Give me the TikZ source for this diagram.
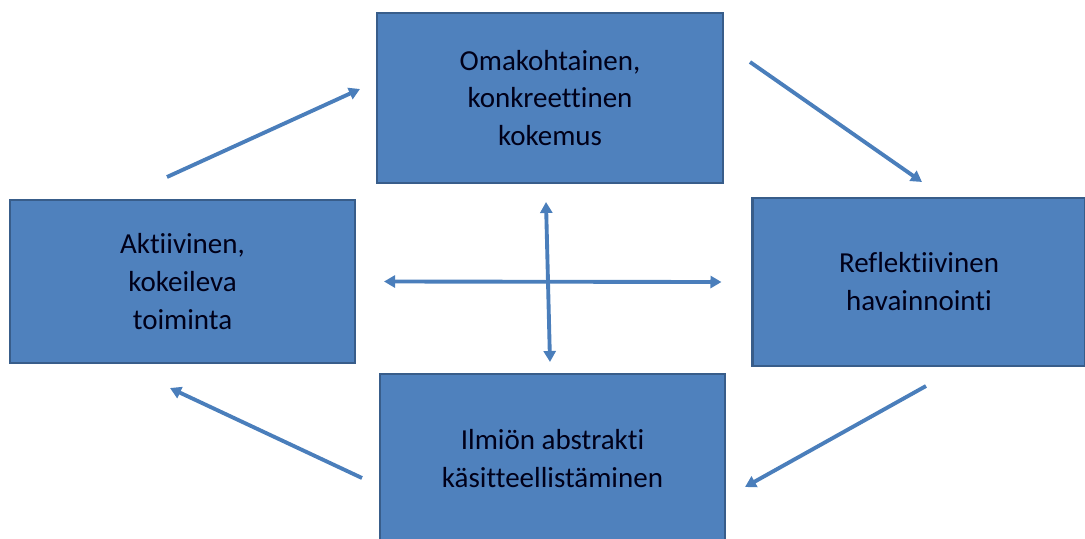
\documentclass[tikz,border=0pt]{standalone}
\usepackage{fontspec}
\setmainfont{Carlito}[Ligatures=NoCommon]
\usepackage{tikz}
\usetikzlibrary{arrows.meta}
\definecolor{boxfill}{HTML}{4F81BD}
\definecolor{boxline}{HTML}{385D8A}
\definecolor{arrowblue}{HTML}{4A7EBB}

\begin{document}
\begin{tikzpicture}[
  x=0.02cm,y=-0.02cm,
  box/.style={draw=boxline,fill=boxfill,line width=1.2pt,align=center,
    inner sep=0pt,text=black!90!blue,font=\fontsize{16.5}{21.6}\selectfont},
  arrow/.style={draw=arrowblue,line width=2.2pt,-{Triangle[length=0.22cm,width=0.24cm]}},
  twoway/.style={arrow,{Triangle[length=0.22cm,width=0.24cm]}-{Triangle[length=0.22cm,width=0.24cm]}}
]
  \useasboundingbox (0,0) rectangle (1085,538);

  % the four phases of the cycle
  \node[box,minimum width=6.92cm,minimum height=3.4cm] (exp) at (550,98)
    {Omakohtainen,\\konkreettinen\\kokemus};
  \node[box,minimum width=6.66cm,minimum height=3.36cm] (refl) at (919,282)
    {Reflektiivinen\\havainnointi};
  \node[box,minimum width=6.9cm,minimum height=3.4cm] (abst) at (552.5,459)
    {Ilmiön abstrakti\\käsitteellistäminen};
  \node[box,minimum width=6.9cm,minimum height=3.26cm] (act) at (182.5,281.5)
    {Aktiivinen,\\kokeileva\\toiminta};

  % free arrow ends
  \coordinate (a1) at (750,62);  \coordinate (a2) at (922,182);
  \coordinate (b1) at (926,386); \coordinate (b2) at (745,487);
  \coordinate (c1) at (362,478); \coordinate (c2) at (170,388);
  \coordinate (d1) at (167,177); \coordinate (d2) at (360,89);
  \coordinate (v1) at (550,362); \coordinate (v2) at (546,202);

  \draw[arrow] (a1) -- (a2);
  \draw[arrow] (b1) -- (b2);
  \draw[arrow] (c1) -- (c2);
  \draw[arrow] (d1) -- (d2);

  % the two axes
  \draw[twoway] ([xshift=0.56cm]act.east) -- ([xshift=-0.6cm]refl.west);
  \draw[twoway] (v1) -- (v2);
\end{tikzpicture}
\end{document}
